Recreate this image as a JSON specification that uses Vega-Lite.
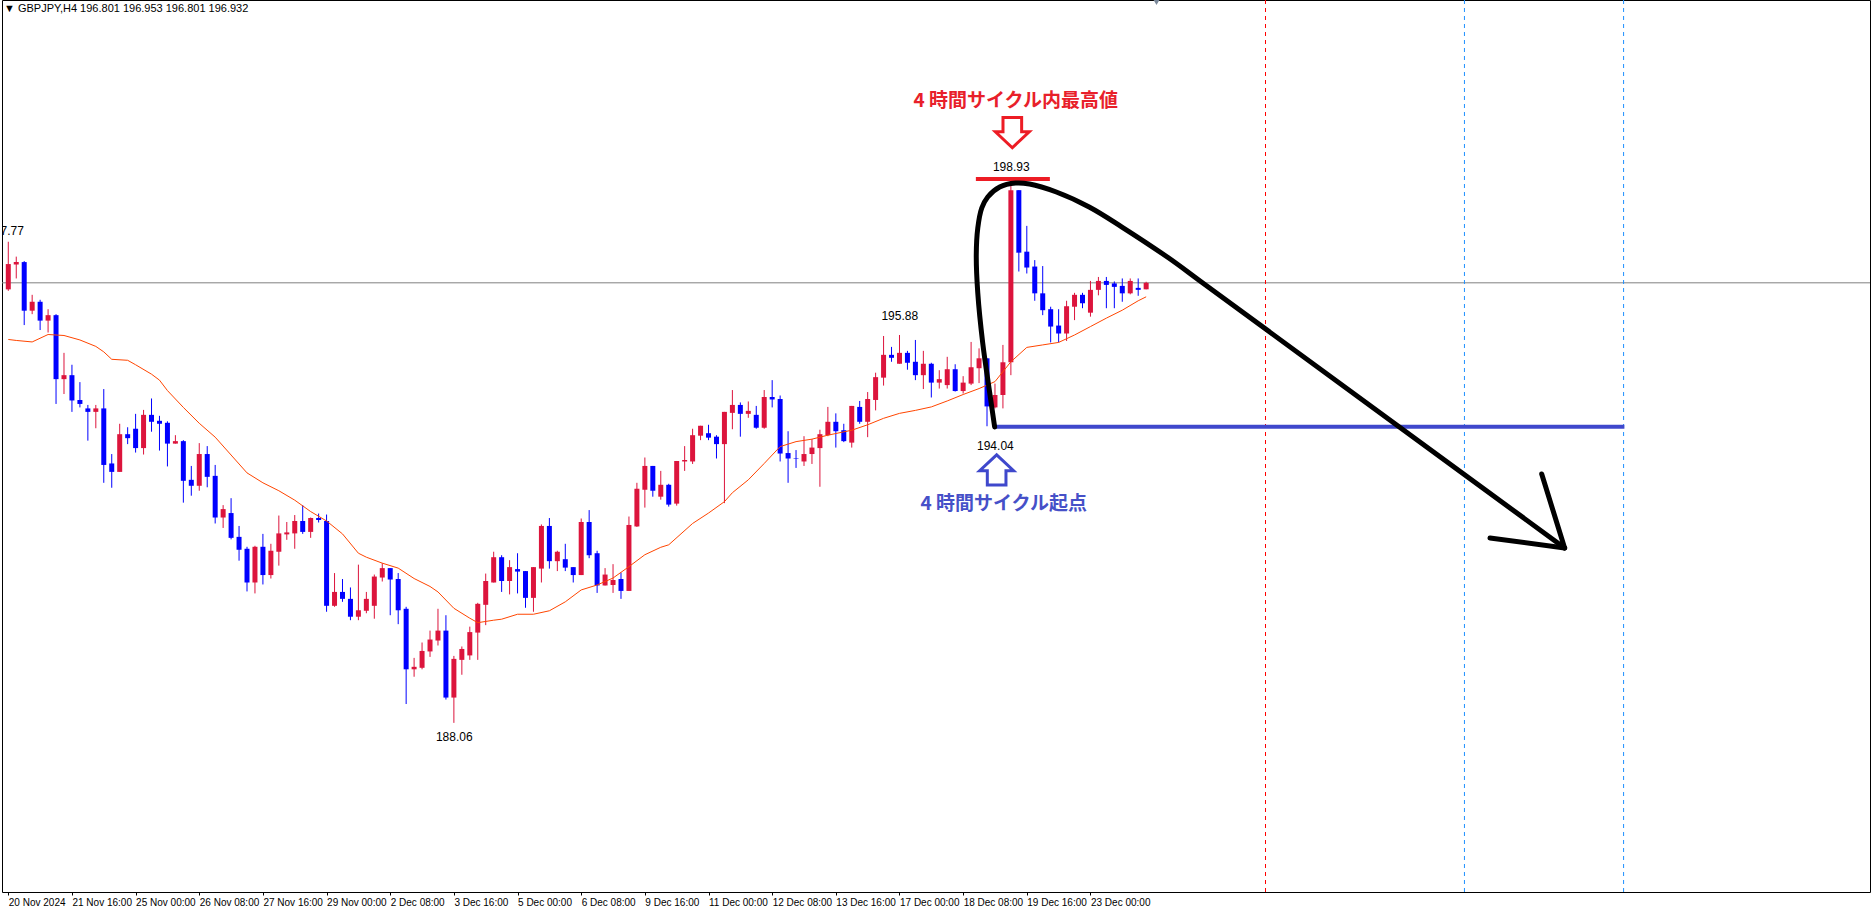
{
  "$schema": "https://vega.github.io/schema/vega-lite/v6.json",
  "autosize": {"type": "none"},
  "padding": {"left": 2, "top": 0, "right": 1, "bottom": 17},
  "width": 1868,
  "height": 892,
  "background": "white",
  "config": {"view": {"stroke": "#000000", "strokeWidth": 1}},
  "title": {"text": "▼ GBPJPY,H4  196.801 196.953 196.801 196.932", "anchor": "start", "frame": "group", "offset": -15, "dx": 2, "font": "Liberation Sans", "fontSize": 11, "fontWeight": "normal", "color": "#000000"},
  "resolve": {"scale": {"color": "independent"}},
  "datasets": {
    "candles": [
      {"i":0,"o":196.80,"h":197.76,"l":196.77,"c":197.31},
      {"i":1,"o":197.30,"h":197.46,"l":197.02,"c":197.35},
      {"i":2,"o":197.35,"h":197.37,"l":196.08,"c":196.37},
      {"i":3,"o":196.37,"h":196.69,"l":196.30,"c":196.55},
      {"i":4,"o":196.55,"h":196.59,"l":195.98,"c":196.17},
      {"i":5,"o":196.17,"h":196.40,"l":195.93,"c":196.28},
      {"i":6,"o":196.28,"h":196.30,"l":194.49,"c":194.99},
      {"i":7,"o":194.99,"h":195.52,"l":194.69,"c":195.07},
      {"i":8,"o":195.07,"h":195.28,"l":194.33,"c":194.56},
      {"i":9,"o":194.57,"h":194.93,"l":194.42,"c":194.49},
      {"i":10,"o":194.40,"h":194.47,"l":193.75,"c":194.33},
      {"i":11,"o":194.33,"h":194.47,"l":194.00,"c":194.40},
      {"i":12,"o":194.40,"h":194.79,"l":192.90,"c":193.26},
      {"i":13,"o":193.29,"h":193.48,"l":192.80,"c":193.12},
      {"i":14,"o":193.12,"h":194.09,"l":193.12,"c":193.88},
      {"i":15,"o":193.88,"h":194.02,"l":193.68,"c":193.80},
      {"i":16,"o":193.99,"h":194.29,"l":193.51,"c":193.60},
      {"i":17,"o":193.60,"h":194.37,"l":193.47,"c":194.27},
      {"i":18,"o":194.27,"h":194.60,"l":193.93,"c":194.13},
      {"i":19,"o":194.15,"h":194.25,"l":193.55,"c":194.09},
      {"i":20,"o":194.11,"h":194.14,"l":193.23,"c":193.69},
      {"i":21,"o":193.69,"h":193.86,"l":193.69,"c":193.74},
      {"i":22,"o":193.74,"h":193.76,"l":192.50,"c":192.94},
      {"i":23,"o":192.96,"h":193.24,"l":192.64,"c":192.84},
      {"i":24,"o":192.84,"h":193.70,"l":192.74,"c":193.48},
      {"i":25,"o":193.48,"h":193.64,"l":192.81,"c":193.02},
      {"i":26,"o":193.04,"h":193.26,"l":192.08,"c":192.20},
      {"i":27,"o":192.20,"h":192.45,"l":191.99,"c":192.37},
      {"i":28,"o":192.29,"h":192.59,"l":191.76,"c":191.79},
      {"i":29,"o":191.81,"h":192.03,"l":191.33,"c":191.55},
      {"i":30,"o":191.57,"h":191.61,"l":190.71,"c":190.89},
      {"i":31,"o":190.89,"h":191.63,"l":190.67,"c":191.61},
      {"i":32,"o":191.61,"h":191.87,"l":190.85,"c":191.04},
      {"i":33,"o":191.04,"h":191.67,"l":190.97,"c":191.53},
      {"i":34,"o":191.51,"h":192.24,"l":191.23,"c":191.88},
      {"i":35,"o":191.86,"h":192.11,"l":191.75,"c":191.90},
      {"i":36,"o":191.88,"h":192.25,"l":191.57,"c":192.13},
      {"i":37,"o":192.13,"h":192.45,"l":191.87,"c":191.91},
      {"i":38,"o":191.91,"h":192.20,"l":191.79,"c":192.19},
      {"i":39,"o":192.19,"h":192.28,"l":192.10,"c":192.15},
      {"i":40,"o":192.13,"h":192.26,"l":190.30,"c":190.42},
      {"i":41,"o":190.42,"h":191.08,"l":190.40,"c":190.70},
      {"i":42,"o":190.70,"h":190.96,"l":190.50,"c":190.56},
      {"i":43,"o":190.56,"h":190.79,"l":190.13,"c":190.20},
      {"i":44,"o":190.20,"h":191.25,"l":190.13,"c":190.33},
      {"i":45,"o":190.32,"h":190.70,"l":190.27,"c":190.56},
      {"i":46,"o":190.42,"h":191.05,"l":190.16,"c":191.01},
      {"i":47,"o":190.99,"h":191.28,"l":190.91,"c":191.18},
      {"i":48,"o":191.18,"h":191.18,"l":190.23,"c":190.95},
      {"i":49,"o":190.96,"h":191.08,"l":190.05,"c":190.33},
      {"i":50,"o":190.36,"h":190.40,"l":188.44,"c":189.14},
      {"i":51,"o":189.14,"h":189.37,"l":188.99,"c":189.19},
      {"i":52,"o":189.17,"h":189.68,"l":189.14,"c":189.51},
      {"i":53,"o":189.50,"h":189.92,"l":189.39,"c":189.74},
      {"i":54,"o":189.72,"h":190.36,"l":189.62,"c":189.92},
      {"i":55,"o":189.92,"h":190.23,"l":188.53,"c":188.57},
      {"i":56,"o":188.57,"h":189.41,"l":188.06,"c":189.35},
      {"i":57,"o":189.33,"h":189.60,"l":189.03,"c":189.55},
      {"i":58,"o":189.42,"h":190.00,"l":189.33,"c":189.89},
      {"i":59,"o":189.88,"h":190.48,"l":189.33,"c":190.46},
      {"i":60,"o":190.44,"h":191.07,"l":190.03,"c":190.92},
      {"i":61,"o":190.89,"h":191.51,"l":190.89,"c":191.40},
      {"i":62,"o":191.40,"h":191.44,"l":190.70,"c":190.92},
      {"i":63,"o":190.92,"h":191.34,"l":190.65,"c":191.20},
      {"i":64,"o":191.16,"h":191.48,"l":190.67,"c":191.11},
      {"i":65,"o":191.12,"h":191.12,"l":190.38,"c":190.58},
      {"i":66,"o":190.58,"h":191.20,"l":190.30,"c":191.20},
      {"i":67,"o":191.17,"h":192.06,"l":190.89,"c":192.03},
      {"i":68,"o":192.03,"h":192.19,"l":191.17,"c":191.32},
      {"i":69,"o":191.32,"h":191.53,"l":191.12,"c":191.51},
      {"i":70,"o":191.36,"h":191.67,"l":191.12,"c":191.19},
      {"i":71,"o":191.20,"h":191.20,"l":190.89,"c":191.04},
      {"i":72,"o":191.04,"h":192.18,"l":191.04,"c":192.11},
      {"i":73,"o":192.11,"h":192.35,"l":191.38,"c":191.44},
      {"i":74,"o":191.48,"h":191.53,"l":190.68,"c":190.83},
      {"i":75,"o":190.83,"h":191.18,"l":190.83,"c":191.05},
      {"i":76,"o":190.84,"h":191.26,"l":190.68,"c":190.94},
      {"i":77,"o":190.96,"h":191.09,"l":190.56,"c":190.72},
      {"i":78,"o":190.72,"h":192.22,"l":190.72,"c":192.05},
      {"i":79,"o":192.02,"h":192.90,"l":192.01,"c":192.78},
      {"i":80,"o":192.76,"h":193.41,"l":192.40,"c":193.24},
      {"i":81,"o":193.24,"h":193.24,"l":192.62,"c":192.74},
      {"i":82,"o":192.62,"h":193.14,"l":192.56,"c":192.86},
      {"i":83,"o":192.86,"h":192.88,"l":192.42,"c":192.46},
      {"i":84,"o":192.48,"h":193.34,"l":192.44,"c":193.34},
      {"i":85,"o":193.33,"h":193.64,"l":193.14,"c":193.36},
      {"i":86,"o":193.33,"h":193.99,"l":193.28,"c":193.86},
      {"i":87,"o":193.85,"h":194.05,"l":193.76,"c":194.05},
      {"i":88,"o":193.90,"h":194.07,"l":193.76,"c":193.81},
      {"i":89,"o":193.83,"h":193.86,"l":193.39,"c":193.68},
      {"i":90,"o":193.68,"h":194.33,"l":192.49,"c":194.33},
      {"i":91,"o":194.31,"h":194.77,"l":193.98,"c":194.47},
      {"i":92,"o":194.47,"h":194.52,"l":193.83,"c":194.29},
      {"i":93,"o":194.29,"h":194.54,"l":194.21,"c":194.35},
      {"i":94,"o":194.27,"h":194.45,"l":193.99,"c":194.01},
      {"i":95,"o":194.01,"h":194.77,"l":193.99,"c":194.63},
      {"i":96,"o":194.63,"h":194.97,"l":194.42,"c":194.58},
      {"i":97,"o":194.59,"h":194.66,"l":193.33,"c":193.49},
      {"i":98,"o":193.50,"h":193.94,"l":192.90,"c":193.39},
      {"i":99,"o":193.40,"h":193.56,"l":193.20,"c":193.39},
      {"i":100,"o":193.33,"h":193.84,"l":193.24,"c":193.48},
      {"i":101,"o":193.48,"h":193.78,"l":193.28,"c":193.61},
      {"i":102,"o":193.60,"h":193.97,"l":192.82,"c":193.88},
      {"i":103,"o":193.86,"h":194.43,"l":193.84,"c":194.13},
      {"i":104,"o":194.13,"h":194.30,"l":193.61,"c":193.94},
      {"i":105,"o":193.96,"h":194.09,"l":193.72,"c":193.74},
      {"i":106,"o":193.71,"h":194.45,"l":193.61,"c":194.45},
      {"i":107,"o":194.43,"h":194.55,"l":194.09,"c":194.13},
      {"i":108,"o":194.13,"h":194.73,"l":193.82,"c":194.59},
      {"i":109,"o":194.57,"h":195.12,"l":194.36,"c":195.03},
      {"i":110,"o":195.02,"h":195.86,"l":194.86,"c":195.48},
      {"i":111,"o":195.48,"h":195.64,"l":195.34,"c":195.42},
      {"i":112,"o":195.30,"h":195.88,"l":195.30,"c":195.52},
      {"i":113,"o":195.52,"h":195.56,"l":195.18,"c":195.32},
      {"i":114,"o":195.34,"h":195.78,"l":194.97,"c":195.07},
      {"i":115,"o":195.07,"h":195.56,"l":194.79,"c":195.30},
      {"i":116,"o":195.30,"h":195.32,"l":194.62,"c":194.92},
      {"i":117,"o":194.92,"h":195.17,"l":194.80,"c":194.99},
      {"i":118,"o":194.87,"h":195.44,"l":194.80,"c":195.19},
      {"i":119,"o":195.19,"h":195.29,"l":194.74,"c":194.75},
      {"i":120,"o":194.75,"h":195.05,"l":194.70,"c":194.92},
      {"i":121,"o":194.90,"h":195.74,"l":194.87,"c":195.23},
      {"i":122,"o":195.21,"h":195.61,"l":194.91,"c":195.41},
      {"i":123,"o":195.41,"h":195.41,"l":194.04,"c":194.44},
      {"i":124,"o":194.42,"h":194.90,"l":194.40,"c":194.67},
      {"i":125,"o":194.67,"h":195.68,"l":194.40,"c":195.33},
      {"i":126,"o":195.33,"h":198.93,"l":195.07,"c":198.80},
      {"i":127,"o":198.80,"h":198.80,"l":197.16,"c":197.54},
      {"i":128,"o":197.56,"h":198.08,"l":197.12,"c":197.24},
      {"i":129,"o":197.26,"h":197.39,"l":196.57,"c":196.72},
      {"i":130,"o":196.72,"h":197.27,"l":196.28,"c":196.38},
      {"i":131,"o":196.40,"h":196.45,"l":195.73,"c":196.05},
      {"i":132,"o":196.07,"h":196.40,"l":195.73,"c":195.91},
      {"i":133,"o":195.91,"h":196.57,"l":195.76,"c":196.46},
      {"i":134,"o":196.45,"h":196.73,"l":196.18,"c":196.69},
      {"i":135,"o":196.69,"h":196.73,"l":196.42,"c":196.52},
      {"i":136,"o":196.33,"h":196.97,"l":196.25,"c":196.79},
      {"i":137,"o":196.79,"h":197.05,"l":196.68,"c":196.97},
      {"i":138,"o":196.97,"h":197.05,"l":196.42,"c":196.89},
      {"i":139,"o":196.92,"h":196.96,"l":196.42,"c":196.85},
      {"i":140,"o":196.87,"h":197.02,"l":196.55,"c":196.72},
      {"i":141,"o":196.72,"h":197.02,"l":196.70,"c":196.97},
      {"i":142,"o":196.83,"h":197.02,"l":196.67,"c":196.79},
      {"i":143,"o":196.801,"h":196.953,"l":196.801,"c":196.932}
    ],
    "ma": [
      {"i":0,"v":195.79},{"i":1,"v":195.77},{"i":3,"v":195.74},{"i":5,"v":195.89},{"i":7,"v":195.87},
      {"i":9,"v":195.78},{"i":11,"v":195.65},{"i":12,"v":195.54},{"i":13,"v":195.39},{"i":15,"v":195.37},
      {"i":16,"v":195.28},{"i":18,"v":195.09},{"i":19,"v":194.97},{"i":20,"v":194.76},{"i":22,"v":194.42},
      {"i":24,"v":194.10},{"i":26,"v":193.82},{"i":28,"v":193.46},{"i":30,"v":193.10},{"i":32,"v":192.90},
      {"i":34,"v":192.74},{"i":36,"v":192.55},{"i":38,"v":192.32},{"i":40,"v":192.13},{"i":42,"v":191.87},
      {"i":44,"v":191.48},{"i":45,"v":191.40},{"i":47,"v":191.28},{"i":49,"v":191.18},{"i":51,"v":190.97},
      {"i":53,"v":190.81},{"i":54,"v":190.70},{"i":56,"v":190.37},{"i":58,"v":190.17},{"i":59,"v":190.08},
      {"i":61,"v":190.13},{"i":62,"v":190.15},{"i":64,"v":190.25},{"i":66,"v":190.25},{"i":68,"v":190.32},
      {"i":70,"v":190.50},{"i":72,"v":190.74},{"i":74,"v":190.84},{"i":76,"v":190.98},{"i":78,"v":191.21},
      {"i":80,"v":191.45},{"i":82,"v":191.60},{"i":83,"v":191.65},{"i":86,"v":192.08},{"i":88,"v":192.29},
      {"i":90,"v":192.52},{"i":91,"v":192.70},{"i":93,"v":192.96},{"i":95,"v":193.29},{"i":97,"v":193.63},
      {"i":99,"v":193.73},{"i":101,"v":193.78},{"i":103,"v":193.86},{"i":106,"v":193.96},{"i":108,"v":194.07},
      {"i":110,"v":194.20},{"i":112,"v":194.30},{"i":114,"v":194.36},{"i":116,"v":194.43},{"i":118,"v":194.55},
      {"i":120,"v":194.68},{"i":122,"v":194.80},{"i":124,"v":194.94},{"i":126,"v":195.34},{"i":128,"v":195.63},
      {"i":130,"v":195.68},{"i":132,"v":195.73},{"i":134,"v":195.88},{"i":136,"v":196.05},{"i":138,"v":196.22},
      {"i":140,"v":196.38},{"i":142,"v":196.57},{"i":143,"v":196.65}
    ],
    "vlines": [
      {"i":158,"kind":"red"},{"i":183,"kind":"blue"},{"i":203,"kind":"blue"}
    ],
    "levels": [
      {"i1":121.6,"i2":130.9,"p":199.025,"kind":"high"},
      {"i1":123.8,"i2":203.1,"p":194.03,"kind":"low"}
    ],
    "prices": [
      {"i":-0.35,"p":197.98,"label":"197.77"},
      {"i":112.03,"p":196.26,"label":"195.88"},
      {"i":56.05,"p":187.78,"label":"188.06"},
      {"i":126.05,"p":199.27,"label":"198.93"},
      {"i":124.05,"p":193.65,"label":"194.04"}
    ],
    "notes": [
      {"i":126.6,"p":200.60,"label":"4 時間サイクル内最高値","kind":"high"},
      {"i":125.1,"p":192.47,"label":"4 時間サイクル起点","kind":"low"}
    ],
    "arrows": [
      {"i":126.18,"p":199.96,"kind":"down"},
      {"i":124.21,"p":193.16,"kind":"up"}
    ],
    "curve": [
      {"k":0,"i":123.96,"p":194.025},
      {"k":1,"i":123.34,"p":194.711},
      {"k":2,"i":122.46,"p":195.719},
      {"k":3,"i":121.84,"p":196.727},
      {"k":4,"i":121.65,"p":197.493},
      {"k":5,"i":121.84,"p":198.037},
      {"k":6,"i":122.34,"p":198.440},
      {"k":7,"i":123.09,"p":198.662},
      {"k":8,"i":124.59,"p":198.864},
      {"k":9,"i":126.59,"p":198.944},
      {"k":10,"i":128.34,"p":198.924},
      {"k":11,"i":131.71,"p":198.763},
      {"k":12,"i":135.84,"p":198.461},
      {"k":13,"i":139.96,"p":198.057},
      {"k":14,"i":145.84,"p":197.432},
      {"k":15,"i":150.46,"p":196.888},
      {"k":16,"i":195.59,"p":191.586}
    ],
    "head": [
      {"i1":192.71,"p1":193.078,"i2":195.59,"p2":191.586},
      {"i1":186.21,"p1":191.787,"i2":195.59,"p2":191.586}
    ],
    "marker": [{"i":144.3,"p":202.59}],
    "current": [{"p":196.932}]
  },
  "layer": [
    {
      "data": {"name": "current"},
      "mark": {"type": "rule", "color": "#808080", "strokeWidth": 1},
      "encoding": {
        "y": {"field": "p", "type": "quantitative", "scale": {"domain": [184.65, 202.634], "nice": false, "zero": false}, "axis": null}
      }
    },
    {
      "data": {"name": "vlines"},
      "mark": {"type": "rule", "strokeWidth": 1, "strokeDash": [4, 4]},
      "encoding": {
        "x": {"field": "i", "type": "quantitative", "scale": {"domain": [-0.1625, 233.34], "nice": false, "zero": false},
          "axis": {"values": [0,8,16,24,32,40,48,56,64,72,80,88,96,104,112,120,128,136],
            "labelExpr": "['20 Nov 2024','21 Nov 16:00','25 Nov 00:00','26 Nov 08:00','27 Nov 16:00','29 Nov 00:00','2 Dec 08:00','3 Dec 16:00','5 Dec 00:00','6 Dec 08:00','9 Dec 16:00','11 Dec 00:00','12 Dec 08:00','13 Dec 16:00','17 Dec 00:00','18 Dec 08:00','19 Dec 16:00','23 Dec 00:00'][round(datum.value/8)]",
            "title": null, "grid": false, "domain": false, "ticks": true, "tickSize": 3, "tickColor": "#000000",
            "labelFont": "Liberation Sans", "labelFontSize": 10, "labelColor": "#000000", "labelAlign": "left",
            "labelBaseline": "top", "labelPadding": 2, "labelOffset": 0, "labelOverlap": false, "labelBound": false, "labelFlush": false}},
        "color": {"field": "kind", "type": "nominal", "scale": {"domain": ["red", "blue"], "range": ["#ff0000", "#1e90ff"]}, "legend": null}
      }
    },
    {
      "data": {"name": "candles"},
      "mark": {"type": "rule", "strokeWidth": 1, "clip": true},
      "encoding": {
        "x": {"field": "i", "type": "quantitative", "scale": {"domain": [-0.1625, 233.34], "nice": false, "zero": false}},
        "y": {"field": "l", "type": "quantitative", "scale": {"domain": [184.65, 202.634], "nice": false, "zero": false}},
        "y2": {"field": "h"},
        "color": {"condition": {"test": "datum.c >= datum.o", "value": "#dc143c"}, "value": "#0000ff"}
      }
    },
    {
      "data": {"name": "candles"},
      "mark": {"type": "bar", "size": 5, "clip": true},
      "encoding": {
        "x": {"field": "i", "type": "quantitative", "scale": {"domain": [-0.1625, 233.34], "nice": false, "zero": false}},
        "y": {"field": "o", "type": "quantitative", "scale": {"domain": [184.65, 202.634], "nice": false, "zero": false}},
        "y2": {"field": "c"},
        "color": {"condition": {"test": "datum.c >= datum.o", "value": "#dc143c"}, "value": "#0000ff"}
      }
    },
    {
      "data": {"name": "ma"},
      "mark": {"type": "line", "color": "#ff4500", "strokeWidth": 1, "clip": true},
      "encoding": {
        "x": {"field": "i", "type": "quantitative", "scale": {"domain": [-0.1625, 233.34], "nice": false, "zero": false}},
        "y": {"field": "v", "type": "quantitative", "scale": {"domain": [184.65, 202.634], "nice": false, "zero": false}}
      }
    },
    {
      "data": {"name": "levels"},
      "mark": {"type": "rule", "strokeWidth": 4},
      "encoding": {
        "x": {"field": "i1", "type": "quantitative", "scale": {"domain": [-0.1625, 233.34], "nice": false, "zero": false}},
        "x2": {"field": "i2"},
        "y": {"field": "p", "type": "quantitative", "scale": {"domain": [184.65, 202.634], "nice": false, "zero": false}},
        "color": {"field": "kind", "type": "nominal", "scale": {"domain": ["high", "low"], "range": ["#ed1c24", "#3f48cc"]}, "legend": null}
      }
    },
    {
      "data": {"name": "prices"},
      "mark": {"type": "text", "font": "Liberation Sans", "fontSize": 12, "color": "#000000", "align": "center", "baseline": "middle", "clip": true},
      "encoding": {
        "x": {"field": "i", "type": "quantitative", "scale": {"domain": [-0.1625, 233.34], "nice": false, "zero": false}},
        "y": {"field": "p", "type": "quantitative", "scale": {"domain": [184.65, 202.634], "nice": false, "zero": false}},
        "text": {"field": "label"}
      }
    },
    {
      "data": {"name": "notes"},
      "mark": {"type": "text", "font": "Noto Sans CJK JP", "fontSize": 19, "fontWeight": "bold", "align": "center", "baseline": "middle"},
      "encoding": {
        "x": {"field": "i", "type": "quantitative", "scale": {"domain": [-0.1625, 233.34], "nice": false, "zero": false}},
        "y": {"field": "p", "type": "quantitative", "scale": {"domain": [184.65, 202.634], "nice": false, "zero": false}},
        "text": {"field": "label"},
        "color": {"field": "kind", "type": "nominal", "scale": {"domain": ["high", "low"], "range": ["#e8202a", "#4650c8"]}, "legend": null}
      }
    },
    {
      "data": {"name": "arrows"},
      "transform": [{"filter": "datum.kind === 'down'"}],
      "mark": {"type": "point", "shape": "M -0.55 -0.89 L 0.55 -0.89 L 0.55 -0.05 L 1 -0.05 L 0 0.89 L -1 -0.05 L -0.55 -0.05 Z", "size": 1150, "filled": false, "strokeWidth": 3, "color": "#ed1c24", "opacity": 1},
      "encoding": {
        "x": {"field": "i", "type": "quantitative", "scale": {"domain": [-0.1625, 233.34], "nice": false, "zero": false}},
        "y": {"field": "p", "type": "quantitative", "scale": {"domain": [184.65, 202.634], "nice": false, "zero": false}}
      }
    },
    {
      "data": {"name": "arrows"},
      "transform": [{"filter": "datum.kind === 'up'"}],
      "mark": {"type": "point", "shape": "M -0.55 0.89 L 0.55 0.89 L 0.55 0.05 L 1 0.05 L 0 -0.89 L -1 0.05 L -0.55 0.05 Z", "size": 1150, "filled": false, "strokeWidth": 3, "color": "#3f48cc", "opacity": 1},
      "encoding": {
        "x": {"field": "i", "type": "quantitative", "scale": {"domain": [-0.1625, 233.34], "nice": false, "zero": false}},
        "y": {"field": "p", "type": "quantitative", "scale": {"domain": [184.65, 202.634], "nice": false, "zero": false}}
      }
    },
    {
      "data": {"name": "curve"},
      "mark": {"type": "line", "color": "#000000", "strokeWidth": 5, "interpolate": "catmull-rom", "strokeCap": "round", "strokeJoin": "round"},
      "encoding": {
        "x": {"field": "i", "type": "quantitative", "scale": {"domain": [-0.1625, 233.34], "nice": false, "zero": false}},
        "y": {"field": "p", "type": "quantitative", "scale": {"domain": [184.65, 202.634], "nice": false, "zero": false}},
        "order": {"field": "k", "type": "quantitative"}
      }
    },
    {
      "data": {"name": "head"},
      "mark": {"type": "rule", "color": "#000000", "strokeWidth": 5, "strokeCap": "round"},
      "encoding": {
        "x": {"field": "i1", "type": "quantitative", "scale": {"domain": [-0.1625, 233.34], "nice": false, "zero": false}},
        "y": {"field": "p1", "type": "quantitative", "scale": {"domain": [184.65, 202.634], "nice": false, "zero": false}},
        "x2": {"field": "i2"},
        "y2": {"field": "p2"}
      }
    },
    {
      "data": {"name": "marker"},
      "mark": {"type": "point", "shape": "triangle-down", "size": 45, "filled": true, "color": "#7a8899", "opacity": 1},
      "encoding": {
        "x": {"field": "i", "type": "quantitative", "scale": {"domain": [-0.1625, 233.34], "nice": false, "zero": false}},
        "y": {"field": "p", "type": "quantitative", "scale": {"domain": [184.65, 202.634], "nice": false, "zero": false}}
      }
    }
  ]
}
